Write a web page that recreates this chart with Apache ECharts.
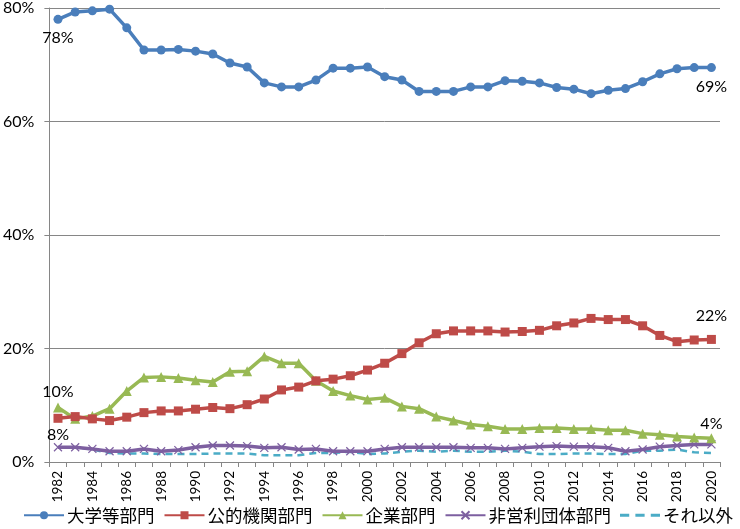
<!DOCTYPE html>
<html><head><meta charset="utf-8">
<script src="https://cdn.jsdelivr.net/npm/echarts@6/dist/echarts.min.js"></script>
<style>html,body{margin:0;padding:0;background:#fff}#c{width:740px;height:529px}</style>
</head><body><div id="c"></div>
<script>
const years = [];
for (let y = 1982; y <= 2020; y++) years.push(String(y));
const yTicks = ['0%','20%','40%','60%','80%'];
const univ = [78.0,79.3,79.5,79.8,76.5,72.6,72.6,72.7,72.4,71.9,70.3,69.6,66.8,66.1,66.1,67.3,69.4,69.4,69.6,67.9,67.3,65.3,65.3,65.3,66.1,66.1,67.2,67.1,66.8,66.0,65.7,64.9,65.5,65.8,67.0,68.4,69.3,69.5,69.5];
const pub = [7.7,8.0,7.6,7.3,7.9,8.7,9.0,9.0,9.3,9.6,9.4,10.1,11.1,12.7,13.2,14.3,14.6,15.2,16.2,17.4,19.1,21.0,22.6,23.1,23.1,23.1,22.9,23.0,23.2,24.0,24.5,25.3,25.1,25.1,24.0,22.3,21.2,21.5,21.6];
const corp = [9.6,7.6,8.1,9.4,12.5,14.9,15.0,14.8,14.4,14.1,15.9,16.0,18.6,17.4,17.4,14.3,12.5,11.7,11.0,11.3,9.8,9.4,8.0,7.3,6.6,6.3,5.8,5.8,6.0,6.0,5.8,5.8,5.6,5.6,5.0,4.8,4.5,4.3,4.2];
const npo = [2.6,2.6,2.3,1.9,1.9,2.3,1.9,2.1,2.6,2.9,2.9,2.8,2.5,2.6,2.2,2.3,1.9,1.9,1.9,2.3,2.6,2.6,2.6,2.6,2.5,2.5,2.3,2.5,2.7,2.8,2.7,2.7,2.5,1.9,2.2,2.7,2.9,3.1,3.1];
const other = [2.6,2.6,2.2,1.6,1.5,1.5,1.4,1.4,1.4,1.5,1.5,1.5,1.2,1.2,1.2,1.6,1.6,1.8,1.4,1.5,1.8,2.0,1.8,2.0,1.8,1.8,2.0,1.8,1.4,1.4,1.5,1.5,1.4,1.4,2.0,2.0,2.2,1.7,1.6];
const names = ['大学等部門','公的機関部門','企業部門','非営利団体部門','それ以外'];
const colors = ['#4A7EBB','#BE4B48','#98B954','#7D5FA0','#4BACC6'];

const font = 'Lato, Carlito, "Liberation Sans", sans-serif';
function endLabels(arr, first, last) {
  const base = {show: true, fontSize: 16, color: '#000', fontFamily: font};
  return arr.map((v, i) => {
    if (i === 0 && first) return {value: v, label: Object.assign({}, base, {formatter: first.t}, first.p)};
    if (i === arr.length - 1 && last) return {value: v, label: Object.assign({}, base, {formatter: last.t}, last.p)};
    return v;
  });
}
const chart = echarts.init(document.getElementById('c'));
chart.setOption({
  animation: false,
  textStyle: {fontFamily: font},
  grid: {left: 48, right: 20, top: 7, bottom: 67},
  legend: {
    bottom: 0, left: 18, itemWidth: 40, itemHeight: 10, itemGap: 9,
    textStyle: {fontSize: 17.5, color: '#000', fontFamily: '"Noto Sans CJK JP", sans-serif', padding: [0, 0, 0, -2]},
    data: [
      {name: names[0]}, {name: names[1]}, {name: names[2]}, {name: names[3]},
      {name: names[4], icon: 'path://M0,0h9v3h-9zM15,0h9v3h-9zM30,0h9v3h-9z', itemStyle: {color: colors[4]}}
    ]
  },
  xAxis: {
    type: 'category', data: years, boundaryGap: true,
    axisLine: {lineStyle: {color: '#868686'}},
    axisTick: {show: true, interval: 0, alignWithLabel: false, length: 5, lineStyle: {color: '#868686'}},
    axisLabel: {interval: 1, rotate: 90, fontSize: 13.5, color: '#000', margin: 9}
  },
  yAxis: {
    type: 'value', min: 0, max: 80, interval: 20,
    axisLine: {show: true, lineStyle: {color: '#868686'}},
    axisTick: {show: true, length: 5, lineStyle: {color: '#868686'}},
    axisLabel: {formatter: v => yTicks[v / 20], fontSize: 16, color: '#000', margin: 15},
    splitLine: {lineStyle: {color: '#868686'}}
  },
  series: [
    {name: names[0], type: 'line', data: endLabels(univ, {t: '78%', p: {position: 'bottom', distance: 6}}, {t: '69%', p: {position: 'bottom', distance: 7}}),
     symbol: 'circle', symbolSize: 9, lineStyle: {width: 3.5}, itemStyle: {color: colors[0]}, z: 5},
    {name: names[1], type: 'line', data: endLabels(pub, {t: '8%', p: {position: 'bottom', distance: 4}}, {t: '22%', p: {position: 'top', distance: 11}}),
     symbol: 'rect', symbolSize: 9, lineStyle: {width: 3.5}, itemStyle: {color: colors[1]}, z: 4},
    {name: names[2], type: 'line', data: endLabels(corp, {t: '10%', p: {position: 'top', distance: 3}}, {t: '4%', p: {position: 'top', distance: 1}}),
     symbol: 'triangle', symbolSize: 10, lineStyle: {width: 3.5}, itemStyle: {color: colors[2]}, z: 3},
    {name: names[3], type: 'line', data: npo,
     symbol: 'path://M0,0L10,10M10,0L0,10', symbolSize: 8, lineStyle: {width: 3.5}, itemStyle: {color: colors[3], borderColor: colors[3], borderWidth: 1.2}, z: 2},
    {name: names[4], type: 'line', data: other, showSymbol: false, symbol: 'none',
     lineStyle: {width: 2.5, type: [7, 5]}, itemStyle: {color: colors[4]}, z: 1}
  ]
});
</script></body></html>
